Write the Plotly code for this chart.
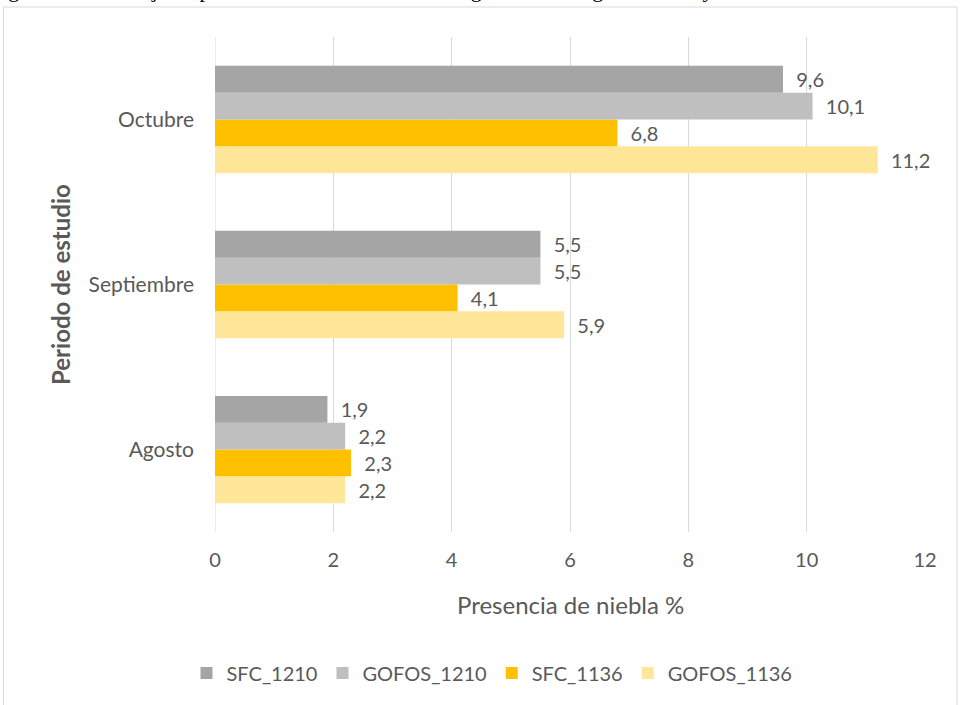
import plotly.graph_objects as go

# Monthly fog presence (%) per method and site
periodos = ["Agosto", "Septiembre", "Octubre"]
sfc_1210 = [1.9, 5.5, 9.6]
gofos_1210 = [2.2, 5.5, 10.1]
sfc_1136 = [2.3, 4.1, 6.8]
gofos_1136 = [2.2, 5.9, 11.2]

series = [
    ("SFC_1210", sfc_1210, "#A5A5A5"),
    ("GOFOS_1210", gofos_1210, "#BFBFBF"),
    ("SFC_1136", sfc_1136, "#FFC000"),
    ("GOFOS_1136", gofos_1136, "#FFE699"),
]

FONT = "Lato, 'Open Sans', sans-serif"
GREY_TXT = "#595959"

fig = go.Figure()
# Plotly stacks grouped horizontal bars bottom-up, so add the series in reverse
for rank, (name, vals, color) in reversed(list(enumerate(series))):
    fig.add_trace(go.Bar(
        y=periodos, x=vals, name=name, orientation="h",
        marker=dict(color=color, line=dict(width=0)),
        text=vals, texttemplate="  %{x:.1f}", textposition="outside",
        textfont=dict(family=FONT, size=20, color=GREY_TXT),
        cliponaxis=False, legendrank=rank,
    ))

L, R, T, B = 215, 35, 37, 173
W, H = 960, 705
pw, ph = W - L - R, H - T - B


def px_x(px):
    return (px - L) / pw


def px_y(py):
    return (H - B - py) / ph


fig.update_layout(
    width=W, height=H,
    margin=dict(l=L, r=R, t=T, b=B),
    paper_bgcolor="white", plot_bgcolor="white",
    separators=",.",
    barmode="group", bargap=0.35, bargroupgap=0,
    font=dict(family=FONT, size=20, color=GREY_TXT),
    showlegend=True,
    legend=dict(orientation="h", x=px_x(492), y=px_y(673),
                xanchor="center", yanchor="middle",
                font=dict(family=FONT, size=20, color=GREY_TXT),
                itemwidth=30, traceorder="normal"),
    xaxis=dict(range=[0, 12], dtick=2, showgrid=True, gridcolor="#D9D9D9",
               gridwidth=1, zeroline=False, showline=False,
               ticks="", ticklabelstandoff=14,
               tickfont=dict(family=FONT, size=20, color=GREY_TXT)),
    yaxis=dict(showgrid=False, zeroline=False, showline=False, ticks="",
               ticklabelstandoff=20,
               tickfont=dict(family=FONT, size=21, color=GREY_TXT)),
    annotations=[
        dict(text="Presencia de niebla %", xref="paper", yref="paper",
             x=0.5, y=px_y(604), xanchor="center", yanchor="middle",
             showarrow=False, font=dict(family=FONT, size=24, color=GREY_TXT)),
        dict(text="<b>Periodo de estudio</b>", xref="paper", yref="paper",
             x=px_x(60), y=px_y(285), xanchor="center", yanchor="middle",
             textangle=-90, showarrow=False,
             font=dict(family=FONT, size=24, color=GREY_TXT)),
        dict(text="Figura 3. Porcentaje de presencia mensual de niebla según metodología GOFOS y SFC",
             xref="paper", yref="paper", x=px_x(-12), y=px_y(4.5),
             xanchor="left", yanchor="bottom", showarrow=False,
             font=dict(family="'Liberation Serif', serif", size=22, color="black")),
    ],
    shapes=[
        dict(type="rect", xref="paper", yref="paper",
             x0=px_x(3.5), x1=px_x(957), y0=px_y(715), y1=px_y(7),
             line=dict(color="#D9D9D9", width=1), fillcolor="rgba(0,0,0,0)",
             layer="below"),
        dict(type="line", xref="x", yref="paper", x0=0, x1=0, y0=0, y1=1,
             line=dict(color="#D9D9D9", width=1), layer="below"),
    ],
)

fig.write_html("out.html")
